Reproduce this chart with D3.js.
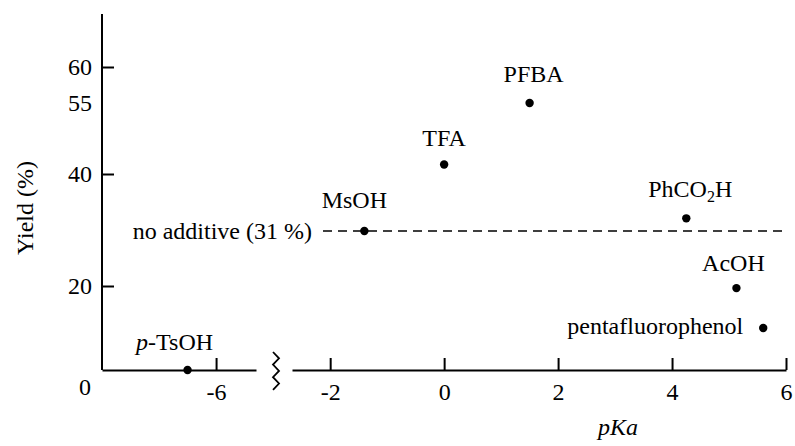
<!DOCTYPE html>
<html>
<head>
<meta charset="utf-8">
<script src="https://cdn.jsdelivr.net/npm/d3@7"></script>
<style>
  html, body { margin: 0; padding: 0; background: #fff; }
  svg text { font-family: "Liberation Serif", "Times New Roman", serif; fill: #000; }
</style>
</head>
<body>
<div id="chart"></div>
<script>
// data
const acids = ["p-TsOH", "MsOH", "TFA", "PFBA", "PhCO2H", "AcOH", "pentafluorophenol"];
const pKa = [-6.5, -1.4, 0, 1.5, 4.25, 5.13, 5.6];
const yieldPct = [0, 31, 42, 55, 33, 19.5, 10];
const noAdditiveYield = 31;

const yTicks = [20, 40, 60];
const yExtraLabels = [0, 55];
const xTicksLeft = [-6];
const xTicksRight = [-2, 0, 2, 4, 6];
// the drawn y axis is not evenly spaced; these are the calibrated values
const yKnots = [0, 20, 31, 40, 55, 60];

const width = 795, height = 446;
const fontSize = 24;

const svg = d3.select("#chart")
    .append("svg")
    .attr("width", width)
    .attr("height", height);

const y = d3.scaleLinear()
    .domain(yKnots)
    .range([370, 286, 231, 174, 103, 67]);

// broken x axis: two segments with the same unit length
const xLeft = d3.scaleLinear().domain([-8, -5.3]).range([102, 256]);
const xRight = d3.scaleLinear().domain([-2.67, 6]).range([292, 786]);
const x = v => v < -4 ? xLeft(v) : xRight(v);

// y axis
svg.append("line")
    .attr("x1", 102).attr("x2", 102)
    .attr("y1", 14).attr("y2", y(0))
    .attr("stroke", "#000").attr("stroke-width", 2);

const yAxis = d3.axisLeft(y)
    .tickValues(yTicks)
    .tickSizeInner(-12)
    .tickSizeOuter(0)
    .tickPadding(10)
    .tickFormat(d => String(d));

const gy = svg.append("g")
    .attr("transform", "translate(102,0)")
    .call(yAxis);
gy.select(".domain").remove();
gy.selectAll(".tick line").attr("stroke-width", 2);
gy.selectAll(".tick text")
    .attr("font-size", fontSize)
    .attr("font-family", null);

svg.selectAll("text.yextra")
    .data(yExtraLabels)
    .enter()
    .append("text")
    .attr("class", "yextra")
    .attr("x", d => d === 0 ? 85 : 92)
    .attr("y", d => d === 0 ? y(d) + 17 : y(d))
    .attr("dy", "0.35em")
    .attr("text-anchor", d => d === 0 ? "middle" : "end")
    .attr("font-size", fontSize)
    .text(d => d);

// x axis, two pieces
function xAxisPiece(scale, ticks) {
    const axis = d3.axisBottom(scale)
        .tickValues(ticks)
        .tickSizeInner(-12)
        .tickSizeOuter(0)
        .tickPadding(13)
        .tickFormat(d => String(d));
    const g = svg.append("g")
        .attr("transform", `translate(0,${y(0)})`)
        .call(axis);
    g.select(".domain").attr("stroke-width", 2);
    g.selectAll(".tick line").attr("stroke-width", 2);
    g.selectAll(".tick text")
        .attr("font-size", fontSize)
        .attr("font-family", null);
}
xAxisPiece(xLeft, xTicksLeft);
xAxisPiece(xRight, xTicksRight);

// axis break
const zig = [];
for (let i = 0; i <= 6; i++) zig.push([i % 2 === 0 ? 273 : 279, 352 + i * 6.3]);
svg.append("path")
    .attr("d", d3.line()(zig))
    .attr("fill", "none")
    .attr("stroke", "#000")
    .attr("stroke-width", 1.8);

// no-additive reference line
svg.append("line")
    .attr("x1", 323).attr("x2", xRight(6))
    .attr("y1", y(noAdditiveYield)).attr("y2", y(noAdditiveYield))
    .attr("stroke", "#000")
    .attr("stroke-width", 1.6)
    .attr("stroke-dasharray", "9,6");

svg.append("text")
    .attr("x", 312)
    .attr("y", y(noAdditiveYield))
    .attr("dy", "0.35em")
    .attr("text-anchor", "end")
    .attr("font-size", fontSize)
    .text(`no additive (${noAdditiveYield} %)`);

// points
svg.selectAll("circle.pt")
    .data(acids)
    .enter()
    .append("circle")
    .attr("class", "pt")
    .attr("cx", (d, i) => x(pKa[i]))
    .attr("cy", (d, i) => y(yieldPct[i]))
    .attr("r", 4.2)
    .attr("fill", "#000");

// point labels (offsets from the point)
const labelPos = {
    "p-TsOH": [-13, -20, "middle"],
    "MsOH": [-10, -23, "middle"],
    "TFA": [0, -19, "middle"],
    "PFBA": [4, -21, "middle"],
    "PhCO2H": [4, -21, "middle"],
    "AcOH": [-3, -17, "middle"],
    "pentafluorophenol": [-20, 6, "end"]
};

acids.forEach((name, i) => {
    const [dx, dy, anchor] = labelPos[name];
    const t = svg.append("text")
        .attr("x", x(pKa[i]) + dx)
        .attr("y", y(yieldPct[i]) + dy)
        .attr("text-anchor", anchor)
        .attr("font-size", fontSize);
    if (name === "p-TsOH") {
        t.append("tspan").attr("font-style", "italic").text("p");
        t.append("tspan").text("-TsOH");
    } else if (name === "PhCO2H") {
        t.append("tspan").text("PhCO");
        t.append("tspan").attr("font-size", 16).attr("dy", 5).text("2");
        t.append("tspan").attr("dy", -5).text("H");
    } else {
        t.text(name);
    }
});

// axis titles
svg.append("text")
    .attr("x", 618)
    .attr("y", 435)
    .attr("text-anchor", "middle")
    .attr("font-size", fontSize)
    .attr("font-style", "italic")
    .text("pKa");

svg.append("text")
    .attr("transform", "translate(33,208) rotate(-90)")
    .attr("text-anchor", "middle")
    .attr("font-size", fontSize)
    .text("Yield (%)");
</script>
</body>
</html>
